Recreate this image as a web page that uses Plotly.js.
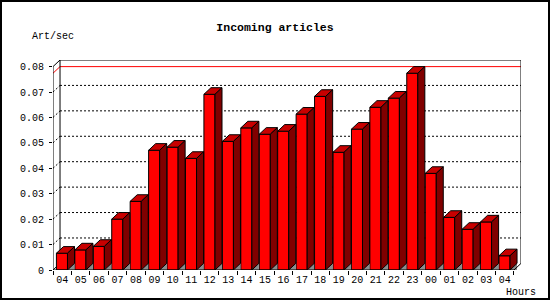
<!DOCTYPE html>
<html>
<head>
<meta charset="utf-8">
<script src="https://cdn.plot.ly/plotly-3.0.1.min.js"></script>
<style>
  html, body { margin: 0; padding: 0; background: #fff; }
  #wrap { position: relative; width: 550px; height: 300px; }
  #chart { width: 550px; height: 300px; }
  #frame { position: absolute; left: 0; top: 0; width: 550px; height: 300px; box-sizing: border-box; border: 2px solid #000; pointer-events: none; }
</style>
</head>
<body>
<div id="wrap"><div id="chart"></div><div id="frame"></div></div>
<script>
// ---- data ----
const hours = ["04","05","06","07","08","09","10","11","12","13","14","15","16","17","18","19","20","21","22","23","00","01","02","03","04"];
const artPerSec = [0.0066,0.0079,0.0093,0.0200,0.0270,0.0471,0.0483,0.0439,0.0691,0.0506,0.0559,0.0534,0.0546,0.0613,0.0683,0.0463,0.0554,0.0640,0.0676,0.0774,0.0380,0.0207,0.0160,0.0189,0.0056];
const yTickVals = [0,0.01,0.02,0.03,0.04,0.05,0.06,0.07,0.08];
const yTickText = ["0","0.01","0.02","0.03","0.04","0.05","0.06","0.07","0.08"];

// ---- style / geometry ----
const DX = 0.381;      // depth offset in slot units
const DY = 0.0026;     // depth offset in value units
const OFF = 0.185;     // front face start within slot
const BW = 0.6;        // front face width
const YMAX = 0.08;
const N = hours.length;
const FONT = "Liberation Mono";

const centers = hours.map((h, i) => i + OFF + BW / 2);
const labelPos = hours.map((h, i) => i + 0.5);

// polygons for top and side faces, and floor shadows
const topX = [], topY = [], sideX = [], sideY = [], shX = [], shY = [];
artPerSec.forEach((v, i) => {
  const x0 = i + OFF, x1 = x0 + BW;
  topX.push(x0, x1, x1 + DX, x0 + DX, x0, null);
  topY.push(v, v, v + DY, v + DY, v, null);
  sideX.push(x1, x1, x1 + DX, x1 + DX, x1, null);
  sideY.push(0, v, v + DY, DY, 0, null);
  shX.push(x1, x1 + DX, x1 + DX, x1, null);
  shY.push(0, DY, 0, 0, null);
});

const traces = [
  { type: "scatter", x: shX, y: shY, mode: "lines", fill: "toself", fillcolor: "#8c8c8c",
    line: { color: "#8c8c8c", width: 0 }, hoverinfo: "skip", showlegend: false },
  { type: "bar", x: centers, y: artPerSec, width: BW,
    marker: { color: "#ff0000", line: { color: "#000", width: 1 } }, hoverinfo: "skip", showlegend: false },
  { type: "scatter", x: topX, y: topY, mode: "lines", fill: "toself", fillcolor: "#c80000",
    line: { color: "#000", width: 1 }, hoverinfo: "skip", showlegend: false },
  { type: "scatter", x: sideX, y: sideY, mode: "lines", fill: "toself", fillcolor: "#800000",
    line: { color: "#000", width: 1 }, hoverinfo: "skip", showlegend: false }
];

const shapes = [];
const ln = (x0, y0, x1, y1, color, dash, layer) => shapes.push({
  type: "line", xref: "x", yref: "y", x0, y0, x1, y1, layer: layer || "below",
  line: { color: color || "#000", width: 1, dash: dash || "solid" }
});
// gridlines on back wall and side wall
yTickVals.slice(1, -1).forEach(v => {
  ln(DX, v + DY, N + DX, v + DY, "#000", "2px,2px");
  ln(0, v, DX, v + DY, "#000", "2px,2px");
});
// max line
const maxV = Math.max(...artPerSec);
ln(0, maxV, DX, maxV + DY, "#ff0000");
ln(DX, maxV + DY, N + DX, maxV + DY, "#ff0000");
// walls
ln(DX, DY, DX, YMAX + DY);
ln(DX, YMAX + DY, N + DX, YMAX + DY);
ln(N + DX, YMAX + DY, N + DX, DY);
ln(0, 0, 0, YMAX);
ln(0, YMAX, DX, YMAX + DY);
ln(0, 0, DX, DY);
ln(0, 0, N, 0, "#000", "solid", "above");
ln(N, 0, N + DX, DY, "#000", "solid", "above");

// helpers to place text by pixel
const L = 53, R = 29, T = 60, B = 30, W = 550, H = 300;
const px = p => (p - L) / (W - L - R);
const py = p => (H - B - p) / (H - T - B);

const layout = {
  width: W, height: H,
  margin: { l: L, r: R, t: T, b: B, pad: 0 },
  paper_bgcolor: "#fff", plot_bgcolor: "#fff",
  font: { family: FONT, size: 10, color: "#000" },
  title: { text: "Incoming articles", font: { family: FONT, size: 11.5, weight: "bold", color: "#000" },
           x: 0.5, xref: "container", y: 1 - 27 / 300, yref: "container", yanchor: "middle", xanchor: "center" },
  bargap: 0,
  xaxis: { range: [0, N + DX], tickmode: "array", tickvals: labelPos, ticktext: hours,
           ticks: "", showgrid: false, zeroline: false, showline: false, fixedrange: true,
           tickfont: { family: FONT, size: 10 }, ticklabelstandoff: 2,
           minor: { tickmode: "array", tickvals: hours.map((h, i) => i).concat([N]), ticks: "outside", ticklen: 4, tickcolor: "#000", showgrid: false } },
  yaxis: { range: [0, YMAX + DY], tickmode: "array", tickvals: yTickVals, ticktext: yTickText,
           ticks: "outside", ticklen: 3, tickcolor: "#000", showgrid: false, zeroline: false, showline: false,
           fixedrange: true, tickfont: { family: FONT, size: 10 }, ticklabelstandoff: 3 },
  shapes,
  annotations: [
    { text: "Art/sec", xref: "paper", yref: "paper", x: px(30), y: py(37), xanchor: "left", yanchor: "middle",
      showarrow: false, font: { family: FONT, size: 10 } },
    { text: "Hours", xref: "paper", yref: "paper", x: px(504), y: py(292), xanchor: "left", yanchor: "middle",
      showarrow: false, font: { family: FONT, size: 10 } }
  ]
};

Plotly.newPlot("chart", traces, layout, { staticPlot: true, displayModeBar: false });
</script>
</body>
</html>
